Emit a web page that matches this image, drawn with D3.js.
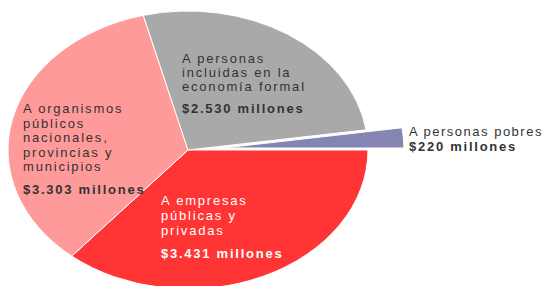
<!DOCTYPE html>
<html>
<head>
<meta charset="utf-8">
<script src="https://cdn.jsdelivr.net/npm/d3@7"></script>
<style>
  body { margin: 0; background: #fff; }
  svg { display: block; }
  .lbl { font-family: "Liberation Sans", Arial, sans-serif; font-size: 13px; letter-spacing: 1.8px; }
  .val { font-weight: bold; letter-spacing: 1.75px; }
</style>
</head>
<body>
<div id="chart"></div>
<script>
// Destino de los fondos (millones de $)
var categories = ["A empresas públicas y privadas", "A organismos públicos nacionales, provincias y municipios", "A personas incluidas en la economía formal", "A personas pobres"];
var values = [3431, 3303, 2530, 220];
var valueLabels = ["$3.431 millones", "$3.303 millones", "$2.530 millones", "$220 millones"];
var labelLines = [
    ["A empresas", "públicas y", "privadas"],
    ["A organismos", "públicos", "nacionales,", "provincias y", "municipios"],
    ["A personas", "incluidas en la", "economía formal"],
    ["A personas pobres"]
];
var colors = ["#ff3535", "#ff9a9a", "#a9a9a9", "#8585b3"];

var width = 547, height = 286;
var cx = 188, cy = 150;
var rx = 180, ry = 139;

var svg = d3.select("#chart").append("svg")
    .attr("width", width)
    .attr("height", height);

var pie = d3.pie()
    .sort(null)
    .startAngle(Math.PI / 2)
    .endAngle(Math.PI / 2 + 2 * Math.PI);

var arcs = pie(values);
var arc = d3.arc().innerRadius(0).outerRadius(ry);

// flat ellipse: draw a circle of radius ry, stretch it horizontally
var g = svg.append("g")
    .attr("transform", "translate(" + cx + "," + cy + ") scale(" + (rx / ry) + ",1)");

g.selectAll("path")
    .data(arcs)
    .enter().append("path")
    .attr("d", arc)
    .attr("fill", function(d, i) { return colors[i]; })
    .attr("stroke", "#fff")
    .attr("stroke-width", 1)
    .attr("vector-effect", "non-scaling-stroke")
    .attr("transform", function(d, i) {
        if (i !== 3) return null;
        // pull the small slice out (20% of radius)
        var mid = (d.startAngle + d.endAngle) / 2;
        return "translate(" + (Math.sin(mid) * ry * 0.2) + "," + (-Math.cos(mid) * ry * 0.2) + ")";
    });

// label layout: x, first baseline, line step, gap to value, colour, spacing
var labelPos = [
    {x: 161, y: 205, step: 15, gap: 23, color: "#fff", ls: null},
    {x: 23, y: 113, step: 14.5, gap: 23, color: "#333", ls: null},
    {x: 182, y: 63, step: 14, gap: 22, color: "#333", ls: null},
    {x: 409, y: 136, step: 14, gap: 15, color: "#333", ls: "1.5px"}
];

labelLines.forEach(function(lines, i) {
    var p = labelPos[i];
    var t = svg.append("g").attr("class", "lbl").attr("fill", p.color);
    lines.forEach(function(line, j) {
        t.append("text")
            .attr("x", p.x)
            .attr("y", p.y + j * p.step)
            .style("letter-spacing", p.ls)
            .text(line);
    });
    t.append("text")
        .attr("class", "val")
        .attr("x", p.x)
        .attr("y", p.y + (lines.length - 1) * p.step + p.gap)
        .text(valueLabels[i]);
});
</script>
</body>
</html>
